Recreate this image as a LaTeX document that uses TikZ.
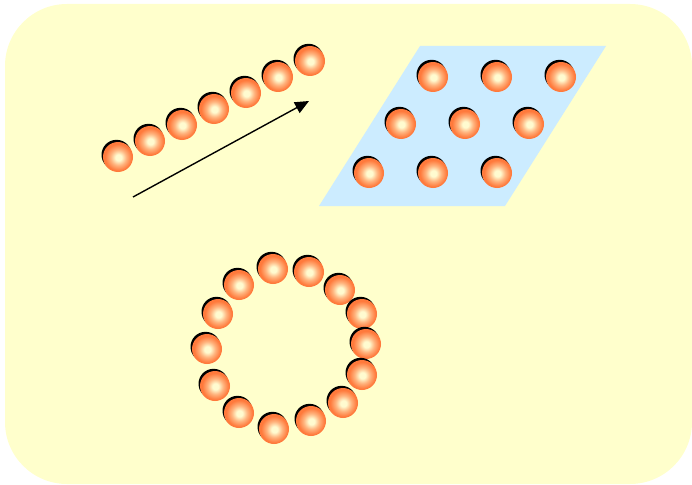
\documentclass[tikz,border=0pt]{standalone}
\usetikzlibrary{arrows.meta}
\definecolor{bgyellow}{HTML}{FFFFCC}
\definecolor{planeblue}{HTML}{CCECFF}
\definecolor{ballout}{HTML}{FF7A3C}
\definecolor{ballin}{HTML}{FFFBD0}
\pgfdeclareradialshading{ballshade}{\pgfpoint{0.8bp}{-0.8bp}}{color(0bp)=(ballin); color(5bp)=(ballin); color(13bp)=(ballin!45!ballout); color(22bp)=(ballout); color(60bp)=(ballout)}
\tikzset{
  ball/.style={circle, minimum size=30pt, inner sep=0pt,
    preaction={fill=black, transform canvas={shift={(-1.5pt,2.2pt)}}},
    shading=ballshade, shade},
  arrowline/.style={line width=1.4pt, -{Triangle[length=14pt,width=12pt]}}
}
\begin{document}
\begin{tikzpicture}[x=1pt,y=-1pt]
\useasboundingbox (0,0) rectangle (692,484);
\fill[bgyellow, rounded corners=62pt] (5,4) rectangle (692,484);
\fill[planeblue] (420,46) -- (606,46) -- (505,206) -- (319,206) -- cycle;
% line of balls
\foreach \n/\x/\y in {l1/118/157, l2/150/141, l3/182/125, l4/214/109, l5/246/93, l6/278/77, l7/310/61}
  \node[ball] (\n) at (\x,\y) {};
% plane balls
\foreach \n/\x/\y in {p1/433/77, p2/497/77, p3/561/77, p4/401/124, p5/465/124, p6/529/124, p7/369/173, p8/433/173, p9/497/173}
  \node[ball] (\n) at (\x,\y) {};
% ring balls
\foreach \n/\x/\y in {r1/273/269, r2/309/272, r3/340/290, r4/362/314, r5/366/344, r6/362/375, r7/343/403, r8/311/421, r9/274/429, r10/239/413, r11/215/386, r12/207/349, r13/218/314, r14/239/285}
  \node[ball] (\n) at (\x,\y) {};
\coordinate (a0) at (133,197);
\coordinate (a1) at (309,101);
\draw[arrowline] (a0) -- (a1);
\end{tikzpicture}
\end{document}
